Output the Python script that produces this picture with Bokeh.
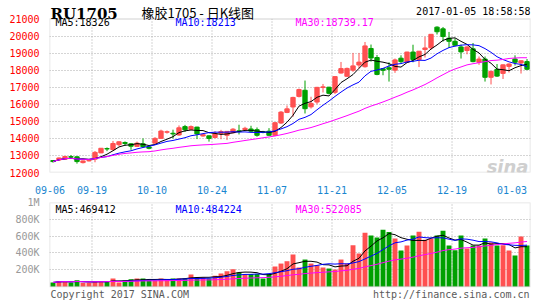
import numpy as np
import pandas as pd
from bokeh.plotting import figure
from bokeh.models import ColumnDataSource, FixedTicker, Label, Range1d, BoxAnnotation
from bokeh.layouts import column
from bokeh.embed import file_html
from bokeh.resources import INLINE

# ---------------- data ----------------
opens = [12700, 12730, 12780, 12930, 12920, 12580, 12680, 12780, 13150, 13400,
         13340, 13630, 13760, 13680, 13530, 13680, 13500, 13720, 14000, 14360,
         14300, 14200, 14690, 14530, 14660, 14140, 14150, 14050, 14290, 14180,
         14330, 14440, 14520, 14550, 14510, 14380, 14420, 14180, 14900, 15520,
         15840, 16460, 16820, 15850, 16130, 16980, 17000, 16700, 17830, 17640,
         18000, 18300, 18200, 19270, 18740, 18080, 18140, 18000, 18700, 18470,
         19060, 18620, 19210, 19310, 20520, 20420, 19870, 19690, 19360, 19150,
         19250, 18460, 18650, 17580, 18040, 17810, 18220, 18650, 18420, 18500]
highs = [12720, 12880, 12960, 13020, 12950, 12700, 12740, 13260, 13430, 13470,
         13850, 13820, 13820, 13720, 13810, 14000, 13540, 14070, 14510, 14460,
         14510, 14760, 14790, 14760, 14680, 14250, 14160, 14420, 14500, 14430,
         14600, 14800, 14680, 14740, 14640, 14440, 14600, 14950, 15600, 15930,
         16440, 16920, 17390, 16440, 17020, 17190, 17020, 17640, 18480, 18150,
         19010, 19010, 19650, 19500, 18890, 18100, 18460, 18680, 18870, 19080,
         19490, 19120, 19960, 20120, 20570, 20530, 20240, 19870, 19500, 19400,
         19590, 18800, 18800, 17950, 18360, 18330, 18400, 18870, 18570, 18650]
lows = [12580, 12700, 12740, 12850, 12520, 12530, 12650, 12600, 13140, 13250,
        13300, 13530, 13560, 13330, 13500, 13480, 13360, 13700, 13980, 14280,
        14000, 14150, 14380, 14500, 13960, 14100, 13810, 14000, 13950, 13900,
        14300, 14230, 14430, 14360, 14100, 14300, 14150, 14130, 14850, 15480,
        15270, 16400, 15460, 15750, 16000, 16690, 16580, 16600, 17800, 17600,
        17900, 18100, 18150, 18500, 17700, 17700, 17330, 17840, 18400, 18420,
        18460, 18180, 18740, 19200, 20090, 19680, 19300, 19400, 18680, 18930,
        18460, 18310, 17330, 17160, 17600, 17480, 17860, 18270, 17800, 18000]
closes = [12640, 12850, 12940, 12900, 12640, 12680, 12700, 13180, 13420, 13380,
          13700, 13800, 13700, 13540, 13720, 13520, 13420, 14000, 14430, 14390,
          14260, 14620, 14500, 14690, 14260, 14220, 14000, 14280, 14400, 14410,
          14540, 14400, 14590, 14420, 14180, 14360, 14180, 14920, 15540, 15730,
          16400, 16860, 15740, 16050, 16990, 17020, 16640, 17620, 18090, 18100,
          18250, 18470, 19420, 18710, 17750, 17990, 18050, 18600, 18500, 19060,
          18620, 19110, 19300, 20100, 20250, 19970, 19690, 19460, 19070, 19360,
          18500, 18650, 17580, 17930, 17650, 18310, 18360, 18460, 18550, 18050]
volumes = [48, 63, 63, 48, 75, 44, 44, 63, 63, 63,
           95, 48, 71, 87, 95, 95, 71, 71, 95, 87,
           95, 95, 95, 143, 107, 107, 95, 127, 154, 182,
           206, 166, 150, 150, 150, 95, 150, 238, 273, 301,
           380, 226, 321, 273, 253, 226, 214, 202, 321, 273,
           491, 392, 641, 606, 582, 677, 649, 570, 428, 487,
           606, 653, 558, 570, 606, 665, 487, 432, 606, 451,
           487, 487, 570, 523, 487, 491, 428, 368, 594, 487]  # thousands

tick_idx = [0, 7, 17, 27, 37, 47, 57, 67, 77]
tick_labels = ["09-06", "09-19", "10-10", "10-24", "11-07", "11-21", "12-05", "12-19", "01-03"]
grid_idx = [7, 17, 27, 37, 47, 57, 67]
price_ticks = [12000, 13000, 14000, 15000, 16000, 17000, 18000, 19000, 20000, 21000]
vol_ticks = [200000, 400000, 600000, 800000, 1000000]
vol_tick_labels = ["200K", "400K", "600K", "800K", "1M"]

title_code = "RU1705"
title_name = "橡胶1705 - 日K线图"
timestamp = "2017-01-05 18:58:58"
price_ma_texts = ["MA5:18326", "MA10:18213", "MA30:18739.17"]
vol_ma_texts = ["MA5:469412", "MA10:484224", "MA30:522085"]
copyright_text = "Copyright 2017 SINA.COM"
url_text = "http://finance.sina.com.cn"

# ---------------- styling ----------------
RED = "#ff5050"
GREEN = "#00a000"
MA_COLORS = ["#000000", "#0000ff", "#ff00ff"]
MONO = "DejaVu Sans Mono"
GRID = "#aaaaaa"
BOX = "#9a9a9a"

o = np.array(opens, float)
h = np.array(highs, float)
l = np.array(lows, float)
c = np.array(closes, float)
v = np.array(volumes, float) * 1000
n = len(c)
xs = np.arange(n) + 0.5
up = c >= o
cols = np.where(up, RED, GREEN)

src = ColumnDataSource(dict(x=xs, o=o, h=h, l=l, c=c,
                            top=np.maximum(o, c), bottom=np.minimum(o, c),
                            vol=v, color=cols))

def ma(arr, k):
    return pd.Series(arr).rolling(k, min_periods=1).mean().values

XR = (-0.083, 80.08)
PMIN, PMAX = price_ticks[0], price_ticks[-1]
# price frame spans canvas y 0..177, box (12000..21000) spans y 19..177
P_TOP = PMIN + (PMAX - PMIN) * 177 / 158

# ---------------- price figure ----------------
p = figure(width=545, height=196, x_range=Range1d(*XR), y_range=Range1d(PMIN, P_TOP),
           output_backend="svg", toolbar_location=None,
           min_border_left=49, min_border_right=15, min_border_top=0, min_border_bottom=19)
p.background_fill_color = "white"
p.border_fill_color = "white"
p.outline_line_color = None

p.xaxis.ticker = FixedTicker(ticks=tick_idx)
p.xaxis.major_label_overrides = {t: s for t, s in zip(tick_idx, tick_labels)}
p.xaxis.axis_line_color = None
p.xaxis.major_tick_line_color = None
p.xaxis.minor_tick_line_color = None
p.xaxis.major_label_text_color = "#1a86d0"
p.xaxis.major_label_text_font = MONO
p.xaxis.major_label_text_font_size = "10px"
p.xaxis.major_label_standoff = 7

p.yaxis.ticker = FixedTicker(ticks=price_ticks)
p.yaxis.axis_line_color = None
p.yaxis.major_tick_line_color = None
p.yaxis.minor_tick_line_color = None
p.yaxis.major_label_text_color = "#ff0000"
p.yaxis.major_label_text_font = MONO
p.yaxis.major_label_text_font_size = "10px"
p.yaxis.major_label_standoff = 4

p.xgrid.visible = False
p.ygrid.ticker = FixedTicker(ticks=price_ticks[1:-1])
p.ygrid.grid_line_color = GRID
p.ygrid.grid_line_dash = "1 2"

p.segment(x0=grid_idx, y0=PMIN, x1=grid_idx, y1=PMAX, line_color=GRID, line_dash="1 2", line_width=1)
p.add_layout(BoxAnnotation(bottom=PMIN, top=PMAX, fill_color=None, line_color=BOX, line_width=1.5))

p.segment(x0="x", y0="l", x1="x", y1="h", color="color", line_width=1, source=src)
p.vbar(x="x", width=0.72, top="top", bottom="bottom", fill_color="color",
       line_color="color", line_width=1, source=src)
for k, col in zip([5, 10, 30], MA_COLORS):
    p.line(xs, ma(c, k), line_color=col, line_width=1)

# texts: screen coords relative to frame bottom-left (frame x 49..530, y 0..177)
FB = 177
FL = 49
p.add_layout(Label(x=50 - FL, y=FB - 18, x_units="screen", y_units="screen", text=title_code,
                   text_font="DejaVu Serif", text_font_style="bold", text_font_size="15px",
                   text_color="#000000", text_baseline="alphabetic"))
p.add_layout(Label(x=141 - FL, y=FB - 17, x_units="screen", y_units="screen", text=title_name,
                   text_font="Noto Sans CJK SC", text_font_size="13px",
                   text_color="#000000", text_baseline="alphabetic"))
p.add_layout(Label(x=530 - FL, y=FB - 16, x_units="screen", y_units="screen", text=timestamp,
                   text_font=MONO, text_font_size="10px", text_align="right",
                   text_color="#000000", text_baseline="alphabetic"))
for txt, cx, col in zip(price_ma_texts, [55, 175, 295], MA_COLORS):
    p.add_layout(Label(x=cx - FL, y=FB - 21, x_units="screen", y_units="screen", text=txt,
                       text_font=MONO, text_font_size="10px", text_color=col,
                       text_baseline="top"))
p.add_layout(Label(x=528 - FL, y=FB - 171, x_units="screen", y_units="screen", text="sina",
                   text_font="DejaVu Sans", text_font_style="bold italic", text_font_size="18px",
                   text_color="#cfcfcf", text_align="right", text_baseline="alphabetic"))

# ---------------- volume figure ----------------
VMAX = vol_ticks[-1]
# volume frame spans canvas y 202..300, box (0..1M) spans y 202..286
V_BOT = -VMAX * 14 / 84
q = figure(width=545, height=104, x_range=p.x_range, y_range=Range1d(V_BOT, VMAX),
           output_backend="svg", toolbar_location=None,
           min_border_left=49, min_border_right=15, min_border_top=6, min_border_bottom=0)
q.background_fill_color = "white"
q.border_fill_color = "white"
q.outline_line_color = None
q.xaxis.visible = False

q.yaxis.ticker = FixedTicker(ticks=vol_ticks)
q.yaxis.major_label_overrides = {t: s for t, s in zip(vol_ticks, vol_tick_labels)}
q.yaxis.axis_line_color = None
q.yaxis.major_tick_line_color = None
q.yaxis.minor_tick_line_color = None
q.yaxis.major_label_text_color = "#999999"
q.yaxis.major_label_text_font = MONO
q.yaxis.major_label_text_font_size = "10px"
q.yaxis.major_label_standoff = 4

q.xgrid.visible = False
q.ygrid.ticker = FixedTicker(ticks=vol_ticks[:-1])
q.ygrid.grid_line_color = GRID
q.ygrid.grid_line_dash = "1 2"

q.segment(x0=grid_idx, y0=0, x1=grid_idx, y1=VMAX, line_color=GRID, line_dash="1 2", line_width=1)
q.add_layout(BoxAnnotation(bottom=0, top=VMAX, fill_color=None, line_color=BOX, line_width=1.5))

q.vbar(x="x", width=0.82, top="vol", bottom=0, fill_color="color", line_color=None, source=src)
for k, col in zip([5, 10, 30], MA_COLORS):
    q.line(xs, ma(v, k), line_color=col, line_width=1)

QB = 300  # canvas y of the volume frame bottom
for txt, cx, col in zip(vol_ma_texts, [55, 175, 295], MA_COLORS):
    q.add_layout(Label(x=cx - FL, y=QB - 203, x_units="screen", y_units="screen", text=txt,
                       text_font=MONO, text_font_size="10px", text_color=col,
                       text_baseline="top"))
q.add_layout(Label(x=50 - FL, y=QB - 294, x_units="screen", y_units="screen", text=copyright_text,
                   text_font=MONO, text_font_size="10px", text_color="#5a5a5a",
                   text_baseline="alphabetic"))
q.add_layout(Label(x=529 - FL, y=QB - 294, x_units="screen", y_units="screen", text=url_text,
                   text_font=MONO, text_font_size="10px", text_color="#5a5a5a",
                   text_align="right", text_baseline="alphabetic"))

layout = column(p, q, spacing=0)
open("out.html", "w").write(file_html(layout, INLINE))
